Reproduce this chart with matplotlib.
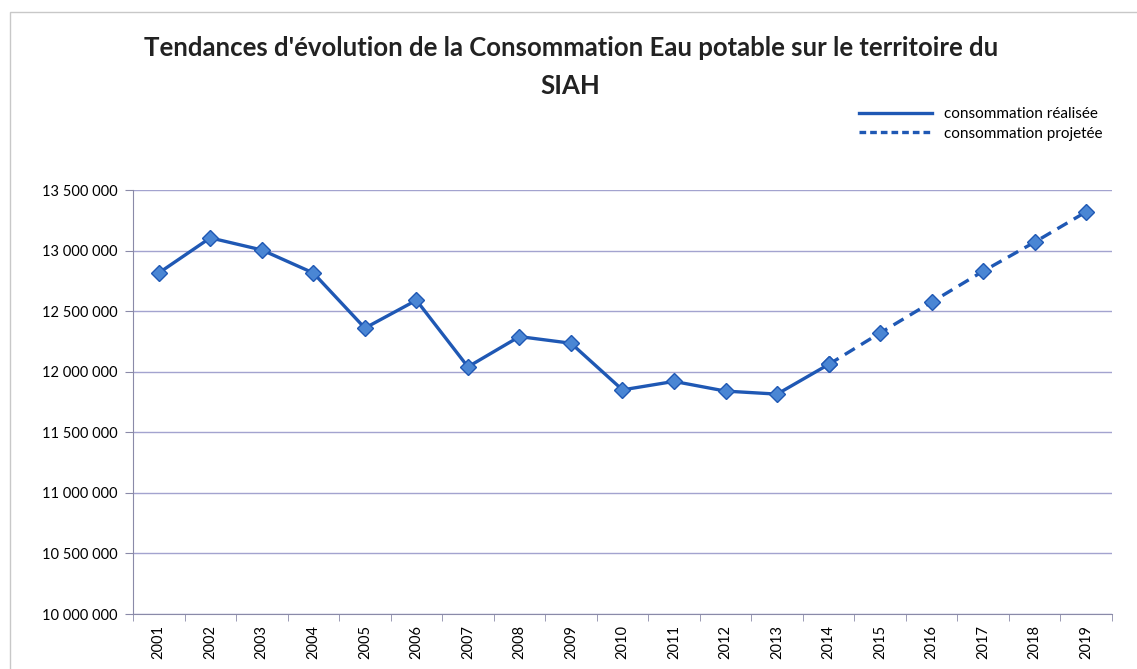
import numpy as np
import matplotlib.pyplot as plt
from matplotlib.lines import Line2D
from matplotlib.ticker import FuncFormatter, FixedLocator
from matplotlib.patches import Rectangle

annees = ["2001", "2002", "2003", "2004", "2005", "2006", "2007", "2008", "2009", "2010",
          "2011", "2012", "2013", "2014", "2015", "2016", "2017", "2018", "2019"]
realisee = [12815000, 13105000, 13005000, 12815000, 12360000, 12590000, 12040000, 12290000,
            12235000, 11850000, 11920000, 11840000, 11815000, 12060000]
projetee = [12060000, 12320000, 12575000, 12830000, 13070000, 13320000]

plt.rcParams['font.family'] = ['Lato', 'DejaVu Sans']

bleu = "#1f58b4"
bleu_clair = "#4a86d4"
grille = "#a3a3cf"

fig = plt.figure(figsize=(11.37, 6.69), dpi=100)
fig.patches.append(Rectangle((10 / 1137, -0.05), 1.2, (669 - 12) / 669 + 0.05,
                             transform=fig.transFigure, fill=False,
                             edgecolor="#c8c8c8", linewidth=1))
ax = fig.add_axes([133 / 1137, 55 / 669, (1112 - 133) / 1137, (614 - 190) / 669])

x_real = np.arange(1, len(realisee) + 1)
x_proj = np.arange(len(realisee), len(annees) + 1)

ax.plot(x_real, realisee, color=bleu, lw=2.4, marker="D", ms=8,
        mfc=bleu_clair, mec=bleu, mew=1, zorder=3)
ax.plot(x_proj, projetee, color=bleu, lw=2.4, ls=(0, (3.5, 2.2)), marker="D", ms=8,
        mfc=bleu_clair, mec=bleu, mew=1, zorder=3)

ax.set_xlim(0.5, len(annees) + 0.5)
ax.set_ylim(10000000, 13500000)
ax.set_yticks(np.arange(10000000, 13500001, 500000))
ax.yaxis.set_major_formatter(FuncFormatter(lambda v, p: f"{int(v):,}".replace(",", " ")))
ax.yaxis.grid(True, color=grille, lw=1)
ax.set_axisbelow(True)

ax.set_xticks(np.arange(1, len(annees) + 1))
ax.set_xticklabels(annees, rotation=90, fontsize=10.5)
ax.xaxis.set_minor_locator(FixedLocator(np.arange(0.5, len(annees) + 1, 1)))
ax.tick_params(axis="x", which="major", length=0, pad=8)
ax.tick_params(axis="x", which="minor", length=5, color="#8a8aa8")
ax.tick_params(axis="y", length=6, color="#8a8aa8", labelsize=10.5, pad=5)

for s in ["top", "right"]:
    ax.spines[s].set_visible(False)
for s in ["left", "bottom"]:
    ax.spines[s].set_color("#8a8aa8")

fig.text(0.502, 0.928, "Tendances d'évolution de la Consommation Eau potable sur le territoire du",
         ha="center", va="center", fontsize=18.5, fontweight="bold", color="#222222")
fig.text(0.502, 0.872, "SIAH", ha="center", va="center", fontsize=18.5,
         fontweight="bold", color="#222222")

handles = [Line2D([], [], color=bleu, lw=2.4),
           Line2D([], [], color=bleu, lw=2.4, ls=(0, (2, 1.2)))]
fig.legend(handles, ["consommation réalisée", "consommation projetée"],
           loc="upper right", bbox_to_anchor=(0.982, 0.86), frameon=False,
           fontsize=11, handlelength=4.8, labelspacing=0.35, handletextpad=0.8)

plt.savefig("out.png")
